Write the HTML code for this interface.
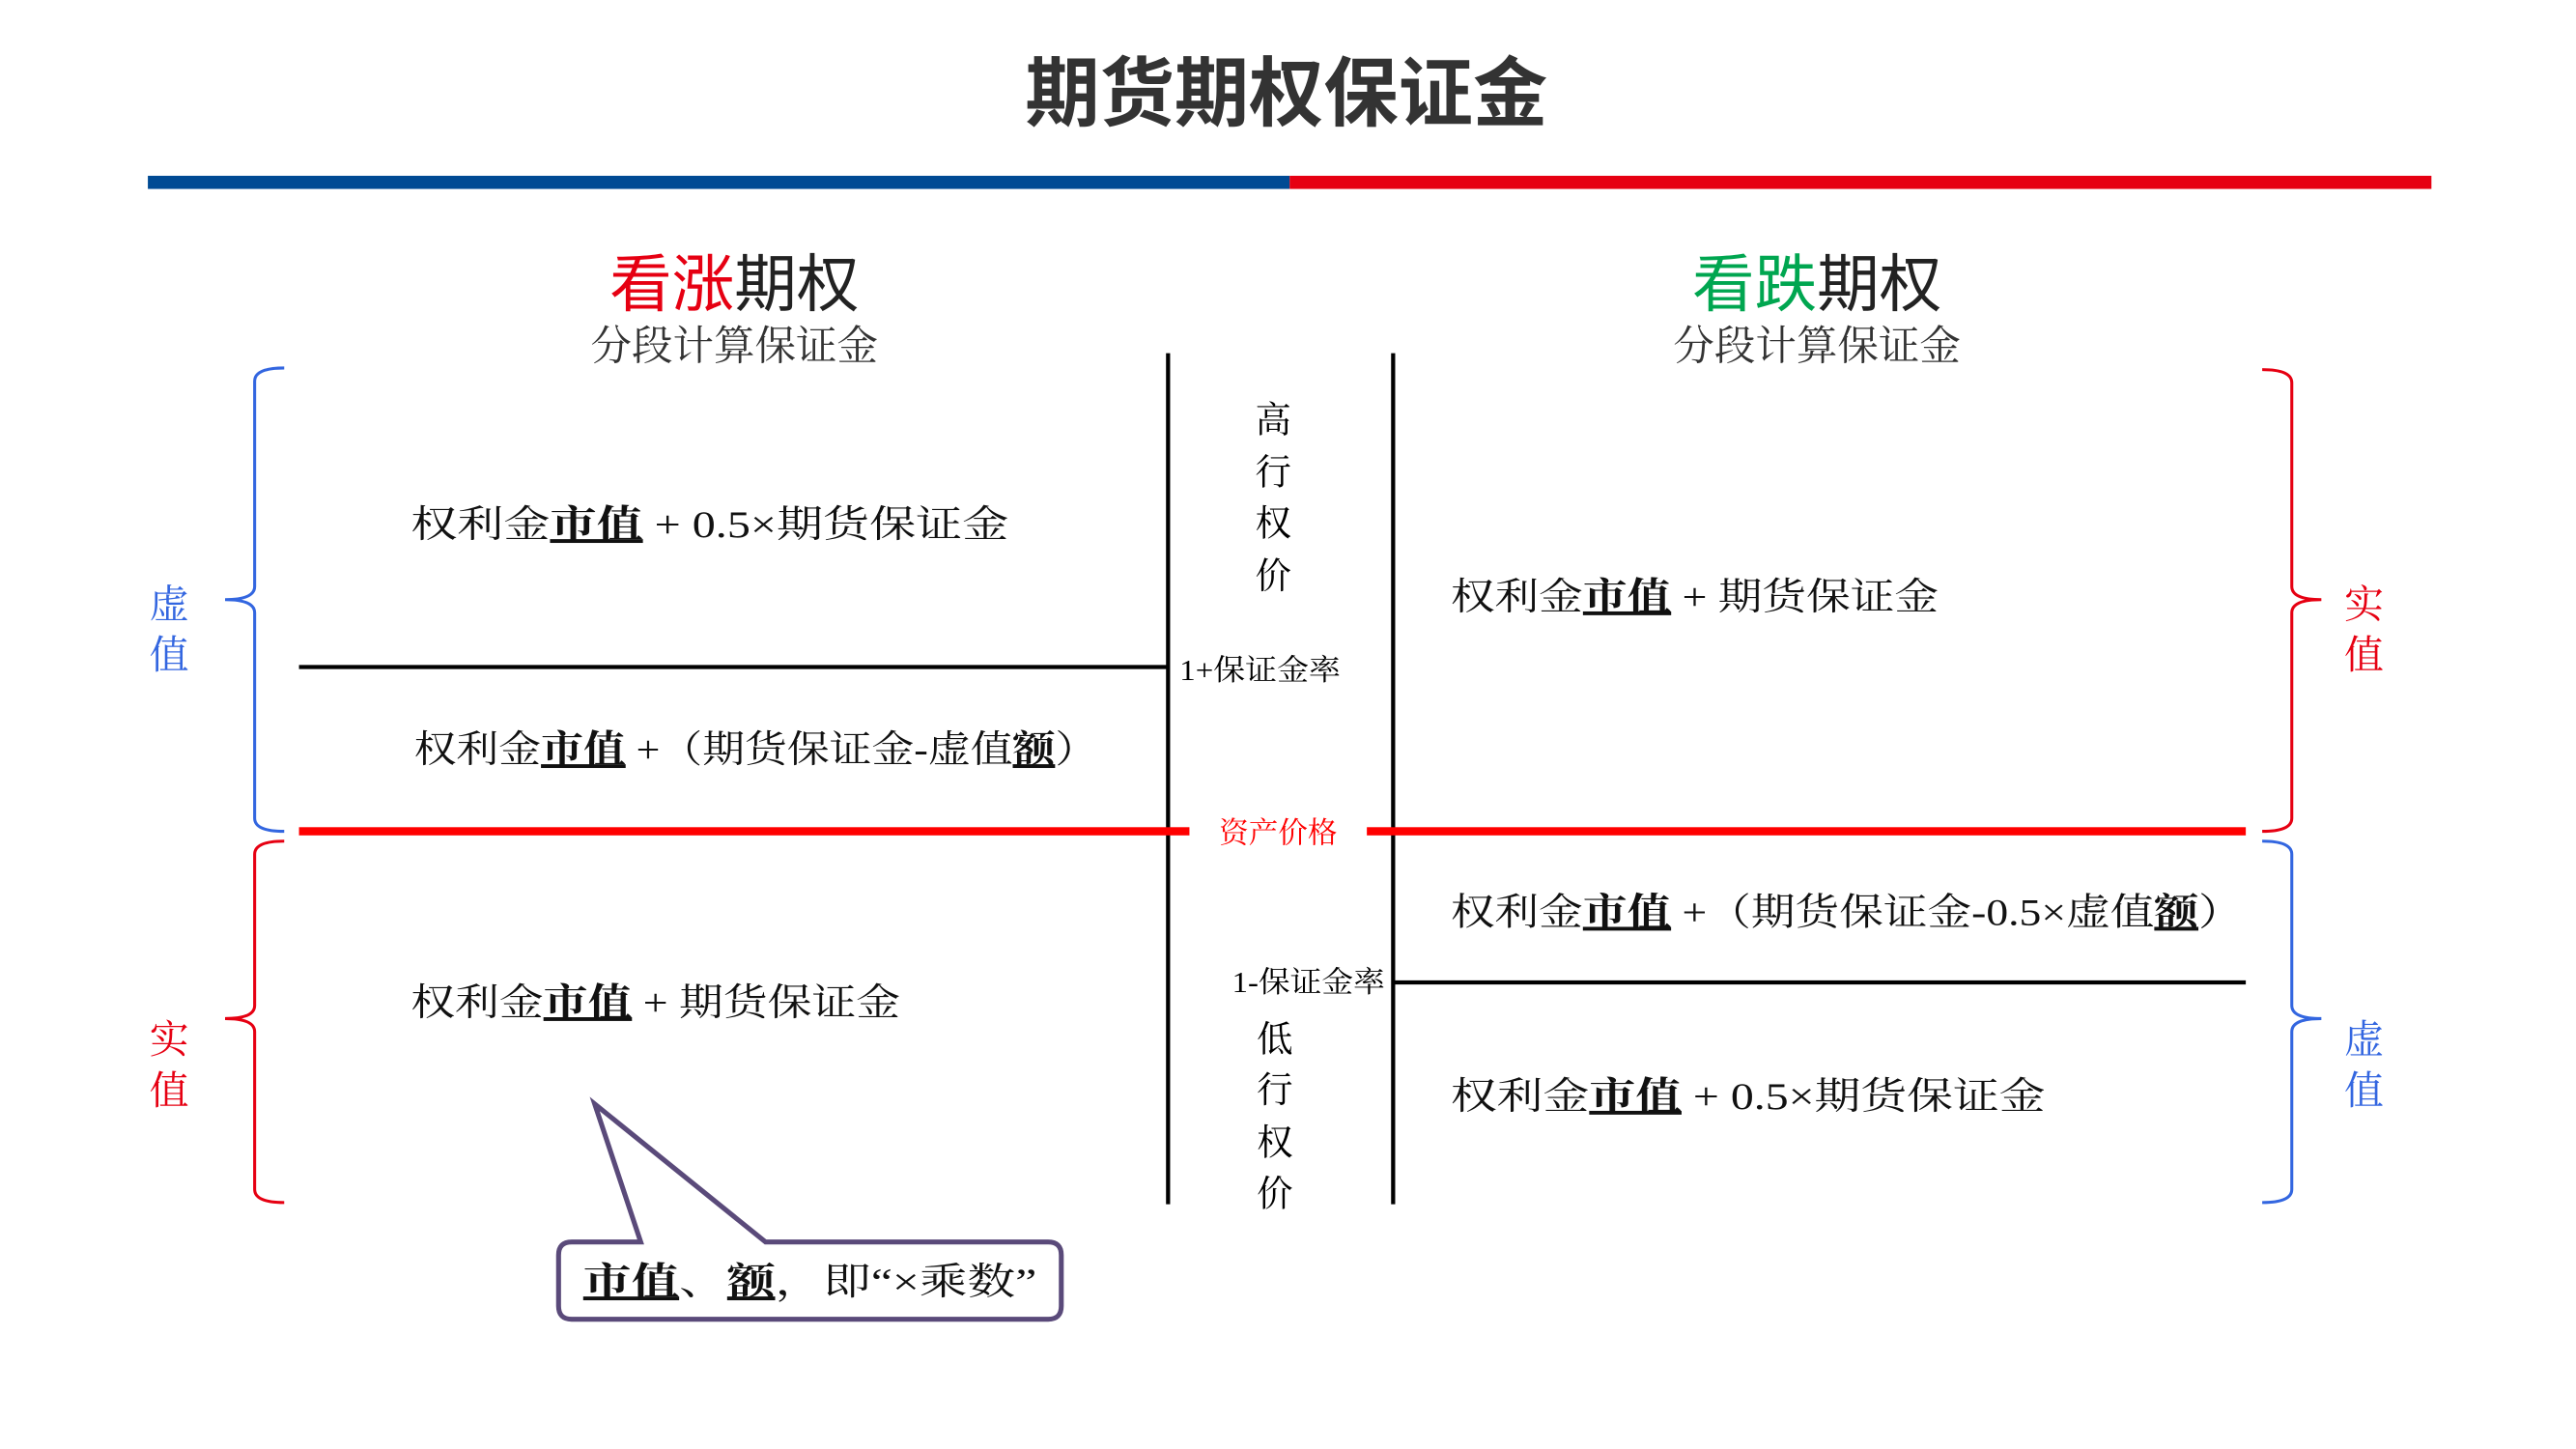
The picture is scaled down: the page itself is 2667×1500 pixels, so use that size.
<!DOCTYPE html>
<html><head><meta charset="utf-8"><style>
html,body{margin:0;padding:0;background:#fff;width:2667px;height:1500px;overflow:hidden}
svg{display:block}
text{font-family:"Liberation Serif","Noto Serif CJK SC",serif}
.s{font-family:"Liberation Sans","Noto Sans CJK SC",sans-serif}
.b{font-weight:bold;text-decoration:underline}
</style></head><body>
<svg width="2667" height="1500" viewBox="0 0 1568 882" preserveAspectRatio="none" xmlns="http://www.w3.org/2000/svg">
<text class="s" x="783" y="73" font-size="46" font-weight="bold" fill="#333" text-anchor="middle" textLength="318" lengthAdjust="spacingAndGlyphs">期货期权保证金</text>
<rect x="90" y="107" width="695" height="8" fill="#004a94"/>
<rect x="785" y="107" width="695" height="8" fill="#e60012"/>

<text class="s" x="447" y="186" font-size="38" text-anchor="middle"><tspan fill="#e60012">看涨</tspan><tspan fill="#222">期权</tspan></text>
<text x="447" y="219" font-size="25" fill="#333" text-anchor="middle">分段计算保证金</text>
<text class="s" x="1106" y="186" font-size="38" text-anchor="middle"><tspan fill="#00a650">看跌</tspan><tspan fill="#222">期权</tspan></text>
<text x="1106" y="219" font-size="25" fill="#333" text-anchor="middle">分段计算保证金</text>

<line x1="711" y1="215" x2="711" y2="733" stroke="#000" stroke-width="2.5"/>
<line x1="848" y1="215" x2="848" y2="733" stroke="#000" stroke-width="2.5"/>

<g fill="none" stroke-width="1.8">
<path d="M173 224 Q155 224 155 232 L155 357 Q155 365 137 365 Q155 365 155 373 L155 498 Q155 506 173 506" stroke="#3366e0"/>
<path d="M173 512 Q155 512 155 520 L155 612 Q155 620 137 620 Q155 620 155 628 L155 724 Q155 732 173 732" stroke="#e60012"/>
<path d="M1377 225 Q1395 225 1395 233 L1395 357 Q1395 365 1413 365 Q1395 365 1395 373 L1395 498 Q1395 506 1377 506" stroke="#e60012"/>
<path d="M1377 512 Q1395 512 1395 520 L1395 612 Q1395 620 1413 620 Q1395 620 1395 628 L1395 724 Q1395 732 1377 732" stroke="#3366e0"/>
</g>
<g class="s" font-size="24" text-anchor="middle">
<text x="103" y="376" fill="#3366e0">虚</text><text x="103" y="407" fill="#3366e0">值</text>
<text x="103" y="641" fill="#e60012">实</text><text x="103" y="672" fill="#e60012">值</text>
<text x="1439" y="376" fill="#e60012">实</text><text x="1439" y="407" fill="#e60012">值</text>
<text x="1439" y="641" fill="#3366e0">虚</text><text x="1439" y="672" fill="#3366e0">值</text>
</g>

<line x1="182" y1="406" x2="711" y2="406" stroke="#000" stroke-width="2.5"/>
<text x="718" y="414" font-size="18" textLength="98" lengthAdjust="spacingAndGlyphs">1+保证金率</text>
<rect x="182" y="503.5" width="542" height="5" fill="#f00"/>
<rect x="832" y="503.5" width="535" height="5" fill="#f00"/>
<text x="778" y="513" font-size="18" fill="#f00" text-anchor="middle">资产价格</text>
<line x1="848" y1="598" x2="1367" y2="598" stroke="#000" stroke-width="2.5"/>
<text x="750" y="604" font-size="18" textLength="93" lengthAdjust="spacingAndGlyphs">1-保证金率</text>

<g font-size="22" text-anchor="middle">
<text x="775" y="263">高</text><text x="775" y="295">行</text><text x="775" y="326">权</text><text x="775" y="358">价</text>
<text x="776" y="640">低</text><text x="776" y="671">行</text><text x="776" y="703">权</text><text x="776" y="734">价</text>
</g>

<g font-size="23" fill="#111">
<text x="250" y="327" textLength="364" lengthAdjust="spacingAndGlyphs">权利金<tspan class="b">市值</tspan> + 0.5×期货保证金</text>
<text x="252" y="464" textLength="416" lengthAdjust="spacingAndGlyphs">权利金<tspan class="b">市值</tspan> +（期货保证金-虚值<tspan class="b">额</tspan>）</text>
<text x="250" y="618" textLength="298" lengthAdjust="spacingAndGlyphs">权利金<tspan class="b">市值</tspan> + 期货保证金</text>
<text x="883" y="371" textLength="297" lengthAdjust="spacingAndGlyphs">权利金<tspan class="b">市值</tspan> + 期货保证金</text>
<text x="883" y="563" textLength="482" lengthAdjust="spacingAndGlyphs">权利金<tspan class="b">市值</tspan> +（期货保证金-0.5×虚值<tspan class="b">额</tspan>）</text>
<text x="883" y="675" textLength="362" lengthAdjust="spacingAndGlyphs">权利金<tspan class="b">市值</tspan> + 0.5×期货保证金</text>
</g>

<path d="M348 756 L390 756 L362 672 L466 756 L638 756 Q646 756 646 764 L646 795 Q646 803 638 803 L348 803 Q340 803 340 795 L340 764 Q340 756 348 756 Z" fill="#fff" stroke="#5a4a7a" stroke-width="3"/>
<text x="355" y="788" font-size="23" fill="#111" textLength="276" lengthAdjust="spacingAndGlyphs"><tspan class="b">市值</tspan>、<tspan class="b">额</tspan>，即“×乘数”</text>
</svg>
</body></html>
